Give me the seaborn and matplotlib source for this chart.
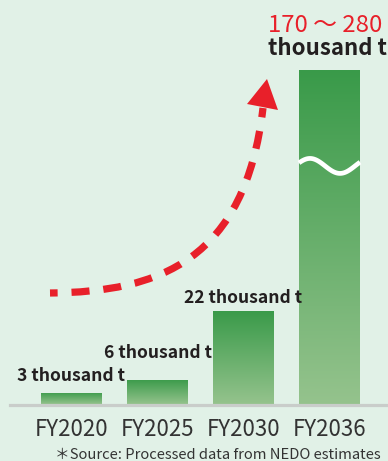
import numpy as np
import matplotlib
matplotlib.use("Agg")
import matplotlib.pyplot as plt
import matplotlib.transforms as mtransforms
from matplotlib.colors import LinearSegmentedColormap
from matplotlib.path import Path
from matplotlib.patches import PathPatch, Polygon
import seaborn as sns

# ---- data (thousand tonnes) ----
years = ["FY2020", "FY2025", "FY2030", "FY2036"]
volumes = [3, 6, 22, 170]          # FY2036 bar drawn at the lower bound of the range
fy2036_range = (170, 280)
unit = "thousand t"
source_note = "＊Source: Processed data from NEDO estimates"

# ---- style ----
BG = "#E1F1E7"
RED = "#E8202A"
TXT = "#231F20"
GREEN_TOP = "#399A49"
GREEN_BOTTOM = "#95C38D"
FONT = ["Noto Sans CJK JP", "DejaVu Sans"]

sns.set_theme(style="white")
plt.rcParams["font.family"] = FONT
plt.rcParams["lines.scale_dashes"] = False

W, H = 388, 461
fig = plt.figure(figsize=(W / 100, H / 100), dpi=100, facecolor=BG)
ax = fig.add_axes([10 / W, 56 / H, 378 / W, 405 / H])
ax.set_facecolor(BG)

# broken value axis: linear up to the break, compressed above it
BREAK, SQUEEZE = 55.0, 0.2


def fwd(y):
    y = np.asarray(y, dtype=float)
    return np.where(y <= BREAK, y, BREAK + (y - BREAK) * SQUEEZE)


def inv(t):
    t = np.asarray(t, dtype=float)
    return np.where(t <= BREAK, t, BREAK + (t - BREAK) / SQUEEZE)


ax.set_yscale("function", functions=(fwd, inv))

sns.barplot(x=years, y=volumes, color=GREEN_TOP, width=0.71, ax=ax,
            saturation=1, linewidth=0)

ax.set_xlim(-0.715, 3.68)
t_top = 405 / 4.3
ax.set_ylim(0, float(inv(t_top)))

# vertical gradient inside each bar
cmap = LinearSegmentedColormap.from_list("bar", [GREEN_BOTTOM, GREEN_TOP])
grad = np.linspace(0, 1, 256).reshape(-1, 1)
blend = mtransforms.blended_transform_factory(ax.transData, ax.transAxes)
for patch, v in zip(ax.patches, volumes):
    x0 = patch.get_x()
    x1 = x0 + patch.get_width()
    top = float(fwd(v)) / t_top
    im = ax.imshow(grad, cmap=cmap, origin="lower", aspect="auto",
                   extent=(x0, x1, 0, top), transform=blend,
                   interpolation="bilinear", zorder=2)
    im.set_clip_path(patch.get_path(), patch.get_transform())
    patch.set_facecolor("none")

# break mark across the tallest bar
last = ax.patches[-1]
wx = np.linspace(last.get_x(), last.get_x() + last.get_width(), 80)
phase = (wx - last.get_x()) / last.get_width()
wt = 55.6 + 1.74 * np.cos(2 * np.pi * (phase - 11 / 61) * 61 / 60)
ax.plot(wx, inv(wt), color="white", lw=3.4, solid_capstyle="butt", zorder=3)

# value labels
label_offsets = [8, 15, 5]
for i, (v, dy) in enumerate(zip(volumes[:3], label_offsets)):
    ax.annotate(f"{v} {unit}", xy=(i, v), xytext=(0, dy),
                textcoords="offset points", ha="center", va="baseline",
                fontsize=12.6, fontweight="bold", color=TXT, zorder=5,
                annotation_clip=False)

ax.annotate(f"{fy2036_range[0]} ～ {fy2036_range[1]}", xy=(3, volumes[3]),
            xytext=(-44.5, 27.4), textcoords="offset points", ha="left",
            va="baseline", fontsize=17.2, color=RED, annotation_clip=False)
ax.annotate(unit, xy=(3, volumes[3]), xytext=(-44.5, 10.8),
            textcoords="offset points", ha="left", va="baseline",
            fontsize=16, fontweight="bold", color=TXT, annotation_clip=False)

# axes styling
for side in ("left", "right", "top"):
    ax.spines[side].set_visible(False)
ax.spines["bottom"].set_color("#C9CDCA")
ax.spines["bottom"].set_linewidth(2.3)
ax.set_yticks([])
ax.set_xlabel("")
ax.set_ylabel("")
ax.tick_params(axis="x", length=0, pad=9, labelsize=16, labelcolor="#333333")

# rising trend arrow (axes-fraction coordinates)
def px(x, y):
    return ((x - 10) / 378, (405 - y) / 405)


verts = [px(50, 293), px(160, 292), px(245, 260), px(263, 108)]
curve = PathPatch(Path(verts, [Path.MOVETO, Path.CURVE4, Path.CURVE4, Path.CURVE4]),
                  transform=ax.transAxes, facecolor="none", edgecolor=RED,
                  lw=5.2, linestyle=(7.5, (13, 10)), capstyle="butt", zorder=4)
ax.add_patch(curve)
head = Polygon([px(267, 79), px(247, 104), px(278, 110)], closed=True,
               transform=ax.transAxes, facecolor=RED, edgecolor="none", zorder=4)
ax.add_patch(head)

fig.text(55 / W, 2 / H, source_note, ha="left", va="baseline",
         fontsize=10.6, color="#333333")

fig.savefig("out.png", dpi=100, facecolor=BG)
